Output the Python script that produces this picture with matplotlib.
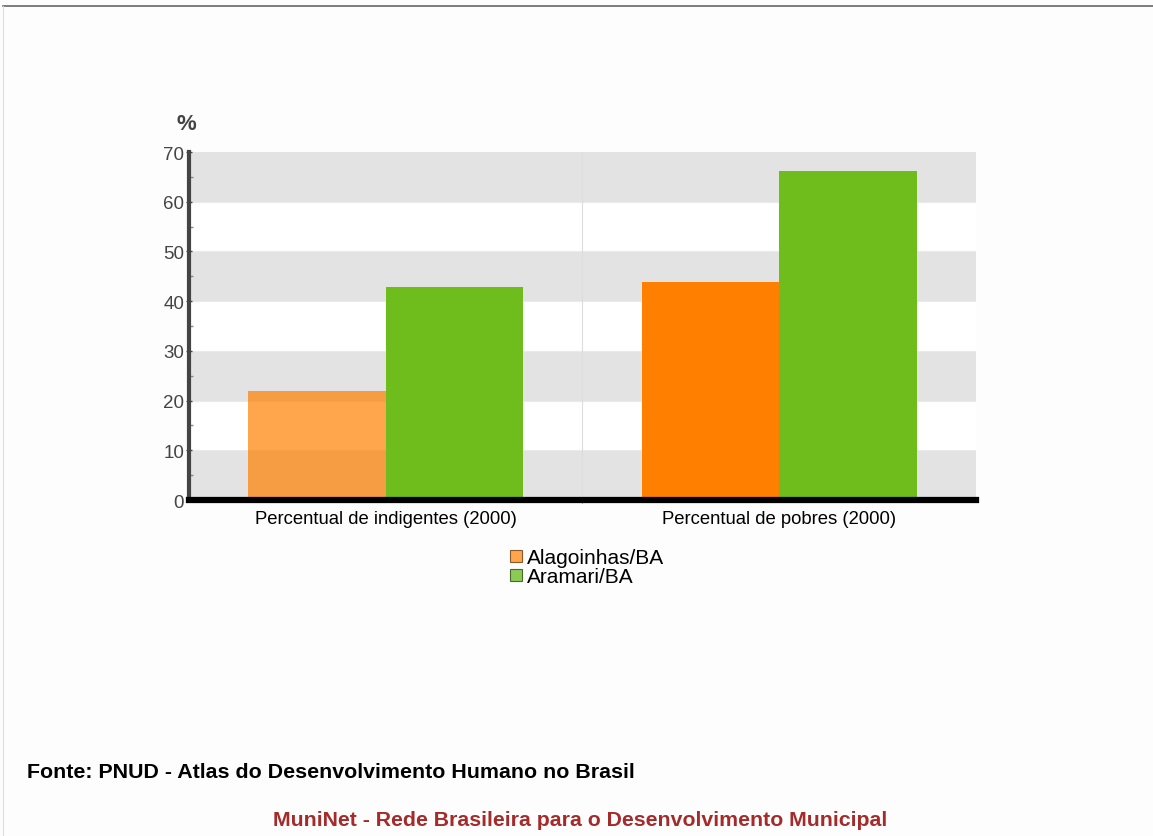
import matplotlib.pyplot as plt
from matplotlib.patches import Patch
from matplotlib.ticker import MultipleLocator

plt.rcParams['font.family'] = ['Liberation Sans', 'DejaVu Sans']

categories = ["Percentual de indigentes (2000)", "Percentual de pobres (2000)"]
series_names = ["Alagoinhas/BA", "Aramari/BA"]
alagoinhas = [22.0, 43.8]
aramari = [42.8, 66.2]
y_ticks = [0, 10, 20, 30, 40, 50, 60, 70]

ORANGE = "#FF8000"
GREEN = "#6EBD1C"


def plot_chart():
    fig = plt.figure(figsize=(11.53, 8.37), dpi=100)
    fig.patch.set_facecolor("#FDFDFD")
    ax = fig.add_axes([0.1639, 0.4014, 0.6826, 0.4158])
    ax.set_facecolor("white")

    # alternating bands
    for lo in range(0, 70, 20):
        ax.axhspan(lo, lo + 10, color="#E3E3E3", zorder=0, lw=0)
    for t in y_ticks[1:-1]:
        ax.axhline(t, color="#EAEAEA", lw=0.8, zorder=0.5)
    ax.axvline(1, color="#DDDDDD", lw=0.8, zorder=0.5)

    w = 0.35
    x = [0.5 + i for i in range(len(categories))]
    for i in range(len(categories)):
        a = 0.7 if i == 0 else 1.0
        ax.bar(x[i] - w / 2, alagoinhas[i], width=w, color=ORANGE, alpha=a, zorder=2, lw=0)
        ax.bar(x[i] + w / 2, aramari[i], width=w, color=GREEN, zorder=2, lw=0)

    ax.set_xlim(0, 2)
    ax.set_ylim(0, 70)
    ax.set_yticks(y_ticks)
    ax.yaxis.set_minor_locator(MultipleLocator(5))
    ax.set_yticklabels([str(t) for t in y_ticks], fontsize=13.5, color="#444444")
    ax.set_xticks(x)
    ax.set_xticklabels(categories, fontsize=13.3, color="black")
    ax.tick_params(axis="x", length=0, pad=7)
    ax.set_xticks([1], minor=True)
    ax.tick_params(axis="x", which="minor", length=2, color="#444444")
    ax.tick_params(axis="y", which="major", length=5, width=1, color="#444444", direction="inout", pad=1)
    ax.tick_params(axis="y", which="minor", length=3, width=1, color="#888888", direction="in")

    for s in ["top", "right"]:
        ax.spines[s].set_visible(False)
    ax.spines["left"].set_color("#444444")
    ax.spines["left"].set_linewidth(3)
    ax.spines["bottom"].set_color("black")
    ax.spines["bottom"].set_linewidth(4.5)
    ax.spines["left"].set_zorder(3)
    ax.spines["bottom"].set_zorder(4)

    fig.text(186 / 1153, 1 - 124 / 837, "%", fontsize=16, fontweight="bold",
             color="#444444", ha="center", va="center")

    handles = [Patch(facecolor="#FFA64D", edgecolor="#8A5A2A", lw=0.8),
               Patch(facecolor="#8BCB55", edgecolor="#4A6A2A", lw=0.8)]
    fig.legend(handles, series_names, loc="upper left",
               bbox_to_anchor=(500 / 1153, 1 - 539 / 837), frameon=False,
               fontsize=15, handlelength=0.55, handleheight=0.55,
               handletextpad=0.22, labelspacing=0.0, borderpad=0)

    fig.text(27 / 1153, 1 - 773 / 837,
             "Fonte: PNUD - Atlas do Desenvolvimento Humano no Brasil",
             fontsize=15.4, fontweight="bold", color="black", ha="left", va="center")
    fig.text(580 / 1153, 1 - 821 / 837,
             "MuniNet - Rede Brasileira para o Desenvolvimento Municipal",
             fontsize=15.3, fontweight="bold", color="#A52A2A", ha="center", va="center")

    # page border lines
    fig.add_artist(plt.Line2D([3 / 1153, 1], [1 - 7 / 837, 1 - 7 / 837],
                              color="#666666", lw=1.2, transform=fig.transFigure))
    fig.add_artist(plt.Line2D([3 / 1153, 3 / 1153], [0, 1 - 7 / 837],
                              color="#DDDDDD", lw=0.8, transform=fig.transFigure))

    fig.savefig("out.png", dpi=100, facecolor=fig.get_facecolor())


if __name__ == "__main__":
    plot_chart()
